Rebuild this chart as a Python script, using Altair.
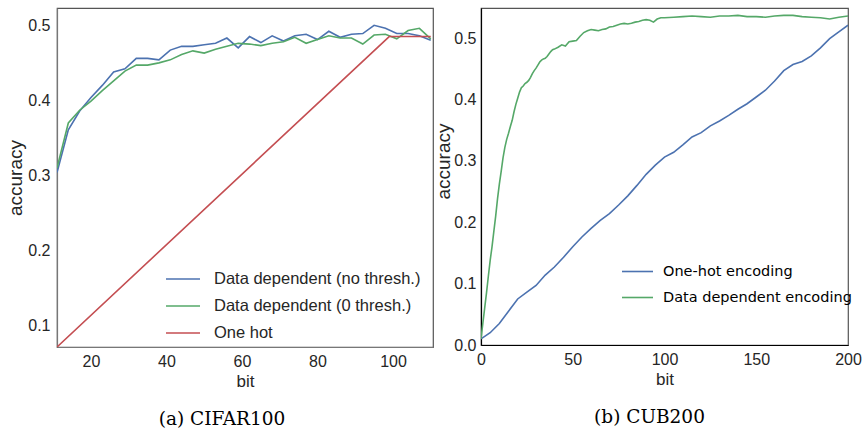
import altair as alt
import pandas as pd

# ---------------- (a) CIFAR100 ----------------
cifar_bits = [11, 14, 17, 20, 23, 26, 29, 32, 35, 38, 41, 44, 47, 50, 53, 56, 59,
              62, 65, 68, 71, 74, 77, 80, 83, 86, 89, 92, 95, 98, 101, 104, 107, 110]
cifar_no_thresh = [0.304, 0.361, 0.386, 0.404, 0.420, 0.438, 0.442, 0.456, 0.456, 0.454,
                   0.467, 0.472, 0.472, 0.474, 0.476, 0.483, 0.470, 0.485, 0.477, 0.486,
                   0.479, 0.486, 0.488, 0.481, 0.492, 0.484, 0.488, 0.489, 0.500, 0.496,
                   0.489, 0.489, 0.486, 0.480]
cifar_zero_thresh = [0.310, 0.370, 0.387, 0.399, 0.413, 0.426, 0.439, 0.447, 0.447, 0.450,
                     0.454, 0.461, 0.466, 0.463, 0.468, 0.472, 0.476, 0.475, 0.473, 0.476,
                     0.478, 0.484, 0.476, 0.481, 0.486, 0.483, 0.483, 0.475, 0.487, 0.488,
                     0.482, 0.493, 0.496, 0.482]
cifar_onehot_bits = [11, 99, 110]
cifar_onehot = [0.072, 0.485, 0.485]

cifar_series = ["Data dependent (no thresh.)", "Data dependent (0 thresh.)", "One hot"]
cifar_colors = ["#4C72B0", "#55A868", "#C44E52"]

# ---------------- (b) CUB200 ----------------
cub_onehot_bits = [0, 5, 10, 15, 20, 25, 30, 35, 40, 45, 50, 55, 60, 65, 70, 75, 80, 85, 90,
                   95, 100, 105, 110, 115, 120, 125, 130, 135, 140, 145, 150, 155, 160, 165,
                   170, 175, 180, 185, 190, 195, 200]
cub_onehot = [0.010, 0.020, 0.035, 0.055, 0.075, 0.086, 0.097, 0.114, 0.127, 0.143, 0.160,
              0.176, 0.190, 0.203, 0.214, 0.228, 0.243, 0.260, 0.278, 0.293, 0.306, 0.314,
              0.326, 0.339, 0.346, 0.357, 0.365, 0.374, 0.384, 0.393, 0.404, 0.415, 0.430,
              0.447, 0.457, 0.462, 0.471, 0.484, 0.499, 0.510, 0.521]
cub_data_bits = [0, 1, 2, 3, 4, 5, 6, 7, 8, 9, 10, 11, 12, 13, 14, 15, 16, 17, 18, 19, 20,
                 21, 22, 23, 24, 25, 26, 27, 28, 29, 30, 31, 32, 33, 34, 35, 36, 37, 38, 39,
                 40, 42, 44, 46, 48, 50, 52, 54, 56, 58, 60, 62, 64, 66, 68, 70, 72, 74, 76,
                 78, 80, 82, 84, 86, 88, 90, 92, 94, 96, 98, 100, 105, 110, 115, 120, 125,
                 130, 135, 140, 145, 150, 155, 160, 165, 170, 175, 180, 185, 190, 195, 200]
cub_data = [0.010, 0.035, 0.060, 0.085, 0.112, 0.138, 0.160, 0.185, 0.210, 0.238, 0.262,
            0.283, 0.305, 0.322, 0.335, 0.345, 0.356, 0.366, 0.380, 0.392, 0.402, 0.412,
            0.419, 0.422, 0.426, 0.428, 0.431, 0.436, 0.442, 0.447, 0.451, 0.456, 0.461,
            0.464, 0.466, 0.467, 0.470, 0.474, 0.478, 0.481, 0.482, 0.485, 0.489, 0.487,
            0.494, 0.495, 0.496, 0.503, 0.509, 0.512, 0.514, 0.513, 0.512, 0.514, 0.515,
            0.518, 0.519, 0.521, 0.523, 0.524, 0.523, 0.524, 0.526, 0.527, 0.529, 0.530,
            0.529, 0.526, 0.531, 0.533, 0.533, 0.534, 0.535, 0.536, 0.535, 0.534, 0.536,
            0.536, 0.537, 0.535, 0.535, 0.534, 0.536, 0.537, 0.537, 0.535, 0.534, 0.533,
            0.531, 0.534, 0.536]

cub_series = ["One-hot encoding", "Data dependent encoding"]
cub_colors = ["#4C72B0", "#55A868"]

# ---------------- tables ----------------
rows = []
for b, v in zip(cifar_bits, cifar_no_thresh):
    rows.append({"bit": b, "acc": v, "series": cifar_series[0]})
for b, v in zip(cifar_bits, cifar_zero_thresh):
    rows.append({"bit": b, "acc": v, "series": cifar_series[1]})
for b, v in zip(cifar_onehot_bits, cifar_onehot):
    rows.append({"bit": b, "acc": v, "series": cifar_series[2]})
cifar_df = pd.DataFrame(rows)

rows = []
for b, v in zip(cub_onehot_bits, cub_onehot):
    rows.append({"bit": b, "acc": v, "series": cub_series[0]})
for b, v in zip(cub_data_bits, cub_data):
    rows.append({"bit": b, "acc": v, "series": cub_series[1]})
cub_df = pd.DataFrame(rows)

SANS = "Liberation Sans"
SERIF = "DejaVu Serif"
TXT = "#262626"

left = alt.Chart(cifar_df).mark_line(strokeWidth=1.6, clip=True).encode(
    x=alt.X("bit:Q",
            scale=alt.Scale(domain=[11, 110.6], nice=False, zero=False),
            axis=alt.Axis(values=[20, 40, 60, 80, 100], title="bit", grid=False, ticks=False,
                          labelPadding=6, titlePadding=4, labelFlush=False,
                          domainColor="#777777")),
    y=alt.Y("acc:Q",
            scale=alt.Scale(domain=[0.072, 0.523], nice=False, zero=False),
            axis=alt.Axis(values=[0.1, 0.2, 0.3, 0.4, 0.5], format=".1f", title="accuracy",
                          grid=False, ticks=False, labelPadding=7, titlePadding=2,
                          titleFontSize=19, domainColor="#777777")),
    color=alt.Color("series:N",
                    scale=alt.Scale(domain=cifar_series, range=cifar_colors),
                    sort=cifar_series,
                    legend=alt.Legend(title=None, orient="none", legendX=108, legendY=253,
                                      symbolType="stroke", symbolSize=1156,
                                      symbolStrokeWidth=1.6, labelFontSize=16.5,
                                      labelFont=SANS, labelColor=TXT, labelOffset=13,
                                      labelLimit=0, rowPadding=-2)),
    order=alt.Order("series:N"),
).properties(
    width=376, height=339,
    title=alt.TitleParams("(a) CIFAR100", orient="bottom", font=SERIF,
                          fontSize=18.5, fontWeight="normal", color="#000000", offset=21,
                          dx=-23),
)

right = alt.Chart(cub_df).mark_line(strokeWidth=1.6, clip=True).encode(
    x=alt.X("bit:Q",
            scale=alt.Scale(domain=[0, 200], nice=False),
            axis=alt.Axis(values=[0, 50, 100, 150, 200], title="bit", grid=False, ticks=False,
                          labelPadding=6, titlePadding=4, labelFlush=False,
                          domainColor="#000000")),
    y=alt.Y("acc:Q",
            scale=alt.Scale(domain=[0, 0.549], nice=False),
            axis=alt.Axis(values=[0.0, 0.1, 0.2, 0.3, 0.4, 0.5], format=".1f",
                          title="accuracy", grid=False, ticks=False, labelPadding=5,
                          titlePadding=0, titleFontSize=19, titleY=153,
                          domainColor="#000000")),
    color=alt.Color("series:N",
                    scale=alt.Scale(domain=cub_series, range=cub_colors),
                    sort=cub_series,
                    legend=alt.Legend(title=None, orient="none", legendX=140, legendY=247,
                                      symbolType="stroke", symbolSize=961,
                                      symbolStrokeWidth=1.6, labelFontSize=14.5,
                                      labelFont="DejaVu Sans", labelColor="#000000",
                                      labelOffset=9, labelLimit=0, rowPadding=3)),
).properties(
    width=367, height=337,
    title=alt.TitleParams("(b) CUB200", orient="bottom", font=SERIF,
                          fontSize=18.5, fontWeight="normal", color="#000000", offset=21,
                          dx=-15),
)

chart = alt.hconcat(left, right, spacing=0).resolve_scale(color="independent").configure(
    padding={"left": 6, "top": 7, "right": 0, "bottom": 0},
    background="white",
).configure_view(
    stroke="#555555", strokeWidth=1.2
).configure_axis(
    labelFont=SANS, labelFontSize=16, labelColor=TXT,
    titleFont=SANS, titleFontSize=17, titleColor=TXT, titleFontWeight="normal",
    domainWidth=1.2,
)

chart.save("out.html", embed_options={"renderer": "svg", "actions": False})
